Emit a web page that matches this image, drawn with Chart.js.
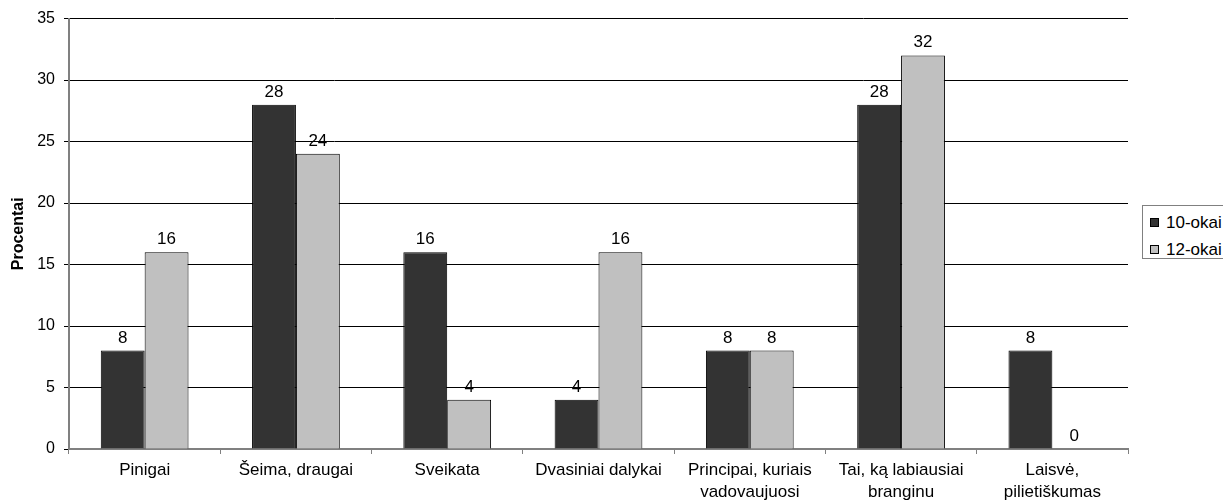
<!DOCTYPE html>
<html>
<head>
<meta charset="utf-8">
<script src="https://cdn.jsdelivr.net/npm/chart.js@4.4.1/dist/chart.umd.min.js"></script>
<style>
  html, body { margin: 0; padding: 0; background: #fff; }
  #wrap { position: relative; width: 1223px; height: 504px; overflow: hidden; }
  #legend {
    position: absolute; left: 1142px; top: 205px; width: 100px; height: 54px;
    border: 1px solid #808080; border-right: none; background: #fff; box-sizing: border-box;
    font: 17px "Liberation Sans", Arial, sans-serif; padding: 3px 0 0 7px;
  }
  #legend div { display: flex; align-items: center; height: 27px; }
  #legend span.box { width: 7px; height: 7px; border: 1px solid #000; margin-right: 7px; }
</style>
</head>
<body>
<div id="wrap">
  <canvas id="c" width="1223" height="504"></canvas>
  <div id="legend"></div>
</div>
<script>
const categories = [
  "Pinigai",
  "Šeima, draugai",
  "Sveikata",
  "Dvasiniai dalykai",
  ["Principai, kuriais", "vadovaujuosi"],
  ["Tai, ką labiausiai", "branginu"],
  ["Laisvė,", "pilietiškumas"]
]
const grade10 = [8, 28, 16, 4, 8, 28, 8]
const grade12 = [16, 24, 4, 16, 8, 32, 0]
const yTicks = [0, 5, 10, 15, 20, 25, 30, 35]

const SERIES = [
  { label: "10-okai", data: grade10, color: "#333333" },
  { label: "12-okai", data: grade12, color: "#c0c0c0" },
]

const FONT = "'Liberation Sans', Arial, sans-serif"

// value labels above each bar
const valueLabels = {
  id: "valueLabels",
  afterDatasetsDraw(chart) {
    const ctx = chart.ctx
    ctx.save()
    ctx.font = "17px " + FONT
    ctx.fillStyle = "#000"
    ctx.textAlign = "center"
    ctx.textBaseline = "alphabetic"
    chart.data.datasets.forEach((ds, i) => {
      chart.getDatasetMeta(i).data.forEach((bar, j) => {
        ctx.fillText(String(ds.data[j]), bar.x, bar.y - 8)
      })
    })
    ctx.restore()
  }
}

new Chart(document.getElementById("c"), {
  type: "bar",
  data: {
    labels: categories,
    datasets: SERIES.map(s => ({
      label: s.label,
      data: s.data,
      backgroundColor: s.color,
      borderColor: "#000",
      borderWidth: 1,
      barPercentage: 1,
      categoryPercentage: 0.58,
    }))
  },
  options: {
    responsive: false,
    animation: false,
    layout: { padding: { top: 18, right: 95, left: 0, bottom: 0 } },
    plugins: {
      legend: { display: false },
      tooltip: { enabled: false },
    },
    scales: {
      y: {
        min: 0,
        max: 35,
        afterBuildTicks: (axis) => { axis.ticks = yTicks.map(v => ({ value: v })) },
        afterFit: (axis) => { axis.width = 69 },
        title: {
          display: true,
          text: "Procentai",
          color: "#000",
          font: { family: FONT, size: 16, weight: "bold" },
          padding: { top: 9, bottom: 0 },
        },
        grid: { color: "#000", tickLength: 5, lineWidth: 1 },
        border: { color: "#808080", width: 2 },
        ticks: { color: "#000", font: { family: FONT, size: 16 }, padding: 9 },
      },
      x: {
        afterFit: (axis) => { axis.height = 55 },
        grid: { offset: true, drawOnChartArea: false, color: "#808080", tickLength: 5 },
        border: { color: "#808080", width: 2 },
        ticks: { color: "#000", font: { family: FONT, size: 17, lineHeight: 1.3 }, padding: 5 },
      }
    }
  },
  plugins: [valueLabels]
})

const legend = document.getElementById("legend")
SERIES.forEach(s => {
  const row = document.createElement("div")
  row.innerHTML = `<span class="box" style="background:${s.color}"></span>${s.label}`
  legend.appendChild(row)
})
</script>
</body>
</html>
